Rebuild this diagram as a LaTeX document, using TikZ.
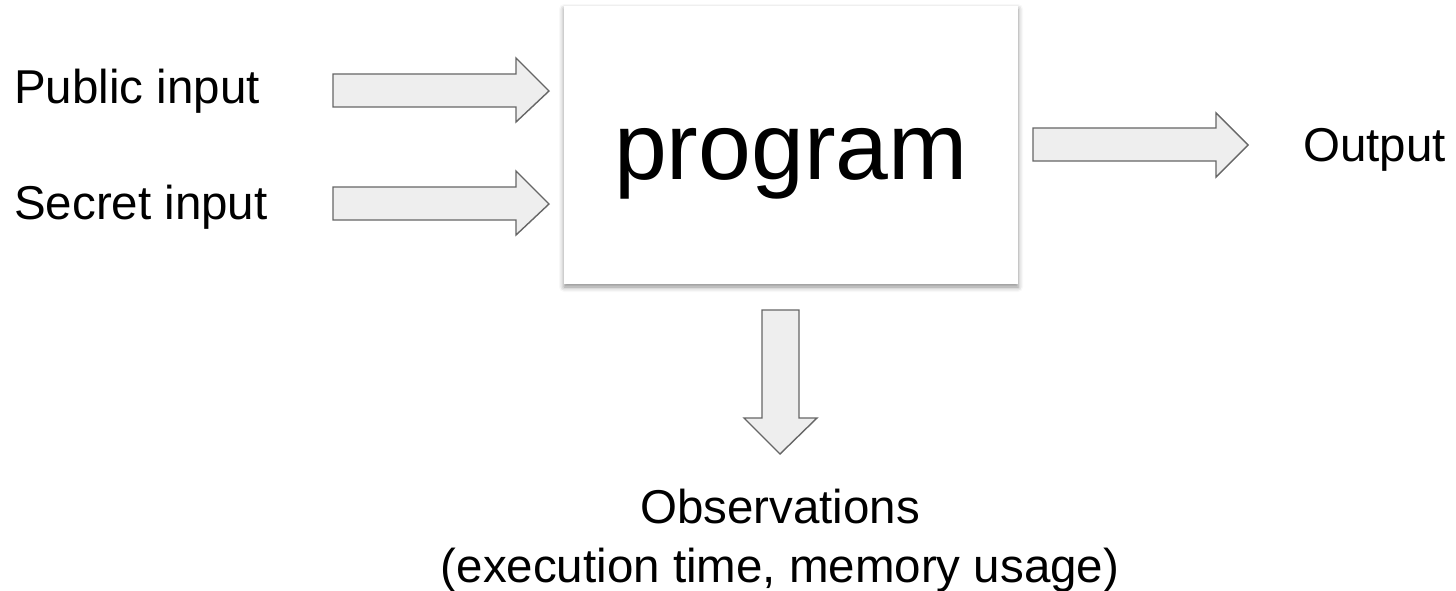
\documentclass[tikz,border=0pt]{standalone}
\usepackage{fontspec}
\setmainfont{Liberation Sans}
\usetikzlibrary{shadows.blur}

\definecolor{arrowfill}{HTML}{EEEEEE}
\definecolor{arrowline}{HTML}{666666}

\tikzset{
  blockarrow/.style={fill=arrowfill, draw=arrowline, line width=1.4pt, line join=miter},
  label/.style={inner sep=0pt, font=\fontsize{47.5}{57}\selectfont},
  progbox/.style={fill=white, draw=none, minimum width=454pt, minimum height=278pt,
    inner sep=0pt,
    blur shadow={shadow xshift=0pt, shadow yshift=-3pt, shadow blur radius=5pt, shadow opacity=45}},
}

\begin{document}
\begin{tikzpicture}[x=1pt, y=-1pt]
  \useasboundingbox (0,0) rectangle (1456,591);

  % the program box
  \node[progbox] (prog) at (791,145) {};
  \node[inner sep=0pt, anchor=base, font=\fontsize{95}{100}\selectfont] (progtext) at (791,179) {program};

  % input labels
  \node[label, anchor=base west] (pub) at (14,104) {Public input};
  \node[label, anchor=base west] (sec) at (14,219) {Secret input};

  % output label
  \node[label, anchor=base west] (out) at (1303,161) {Output};

  % observations label
  \node[label, anchor=base] (obs1) at (780,523) {Observations};
  \node[label, anchor=base] (obs2) at (780,582) {(execution time, memory usage)};

  % block arrows into the program
  \draw[blockarrow] (333,74) -- (516,74) -- (516,58) -- (549,91) -- (516,122) -- (516,107) -- (333,107) -- cycle;
  \draw[blockarrow] (333,187) -- (516,187) -- (516,171) -- (549,204) -- (516,235) -- (516,220) -- (333,220) -- cycle;

  % block arrow out of the program
  \draw[blockarrow] (1033,128) -- (1216,128) -- (1216,113) -- (1248,145) -- (1216,177) -- (1216,161) -- (1033,161) -- cycle;

  % block arrow down to the observations
  \draw[blockarrow] (762,310) -- (799,310) -- (799,418) -- (817,418) -- (780,454) -- (744,418) -- (762,418) -- cycle;
\end{tikzpicture}
\end{document}
